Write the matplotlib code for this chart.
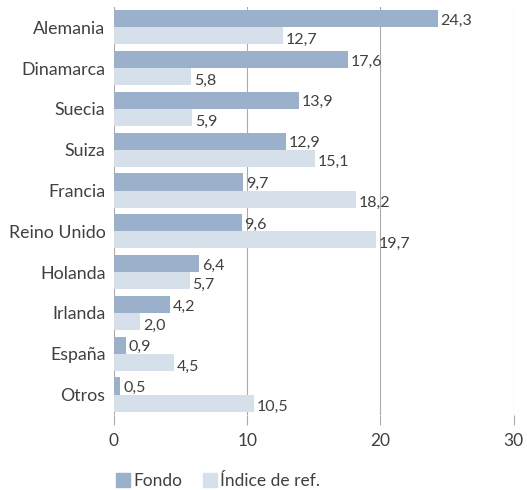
import matplotlib
matplotlib.use("Agg")
import matplotlib.pyplot as plt
from matplotlib.patches import Patch
import numpy as np

plt.rcParams['font.family'] = ['Lato', 'DejaVu Sans']

categories = ["Alemania", "Dinamarca", "Suecia", "Suiza", "Francia", "Reino Unido",
              "Holanda", "Irlanda", "España", "Otros"]
fondo = [24.3, 17.6, 13.9, 12.9, 9.7, 9.6, 6.4, 4.2, 0.9, 0.5]
indice = [12.7, 5.8, 5.9, 15.1, 18.2, 19.7, 5.7, 2.0, 4.5, 10.5]
series_names = ["Fondo", "Índice de ref."]
xticks = [0, 10, 20, 30]

c_fondo = "#9AB0CB"
c_ind = "#D6E0EB"
txt = "#404040"

fig = plt.figure(figsize=(5.27, 4.9), dpi=100)
ax = fig.add_axes([0.216, 0.153, 0.759, 0.833])

y = np.arange(len(categories))
h = 0.42
ax.barh(y - h/2, fondo, height=h, color=c_fondo, zorder=3)
ax.barh(y + h/2, indice, height=h, color=c_ind, zorder=3)

def fmt(v):
    return f"{v:.1f}".replace(".", ",")

for yi, v in zip(y, fondo):
    ax.text(v + 0.2, yi - h/2 + 0.05, fmt(v), va="center", ha="left", fontsize=11.5, color=txt, zorder=4)
for yi, v in zip(y, indice):
    ax.text(v + 0.2, yi + h/2 + 0.1, fmt(v), va="center", ha="left", fontsize=11.5, color=txt, zorder=4)

ax.set_xlim(0, 30)
ax.set_ylim(len(categories) - 0.5, -0.5)
ax.set_yticks(y)
ax.set_yticklabels(categories, fontsize=12.8, color=txt)
ax.set_xticks(xticks)
ax.set_xticklabels([str(t) for t in xticks], fontsize=12.5, color=txt)
ax.tick_params(axis="y", length=0, pad=6)
ax.tick_params(axis="x", length=7, color="#aaaaaa", pad=6, width=0.8)
ax.grid(axis="x", color="#aaaaaa", linewidth=0.8, zorder=0)
for s in ax.spines.values():
    s.set_visible(False)

handles = [Patch(color=c_fondo, label=series_names[0]), Patch(color=c_ind, label=series_names[1])]
fig.legend(handles=handles, loc="lower left", bbox_to_anchor=(0.19, -0.03), ncol=2, frameon=False,
           fontsize=12.5, handlelength=0.8, handleheight=0.8, handletextpad=0.2, columnspacing=1.2,
           labelcolor=txt)

fig.savefig("out.png", dpi=100)
